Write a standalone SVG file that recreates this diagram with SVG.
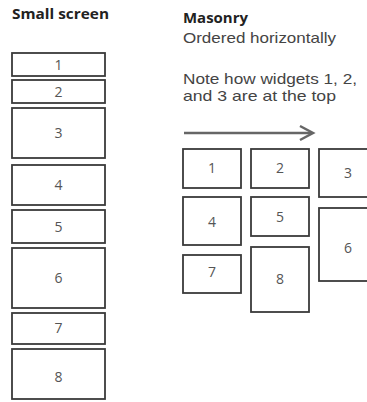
<svg xmlns="http://www.w3.org/2000/svg" width="367" height="402" viewBox="0 0 367 402">
<style>
.box{fill:#fff;stroke:#3a3a3a;stroke-width:1.8}
.num{font-family:"Open Sans","Liberation Sans",sans-serif;font-size:14px;fill:#555;text-anchor:middle}
.title{font-family:"Open Sans","Liberation Sans",sans-serif;font-weight:bold;font-size:14px;fill:#222}
.txt{font-family:"Liberation Sans",Arial,sans-serif;font-size:14.8px;fill:#444}
</style>
<rect width="367" height="402" fill="#fff"/>
<text class="title" x="12" y="19" textLength="97" lengthAdjust="spacingAndGlyphs">Small screen</text>
<g id="s1"><rect class="box" x="12" y="53" width="93" height="23"/><text class="num" x="58.5" y="69.5">1</text></g>
<g id="s2"><rect class="box" x="12" y="80" width="93" height="23"/><text class="num" x="58.5" y="96.5">2</text></g>
<g id="s3"><rect class="box" x="12" y="108" width="93" height="50"/><text class="num" x="58.5" y="138">3</text></g>
<g id="s4"><rect class="box" x="12" y="165" width="93" height="40"/><text class="num" x="58.5" y="190">4</text></g>
<g id="s5"><rect class="box" x="12" y="210" width="93" height="33"/><text class="num" x="58.5" y="231.5">5</text></g>
<g id="s6"><rect class="box" x="12" y="248" width="93" height="60"/><text class="num" x="58.5" y="283">6</text></g>
<g id="s7"><rect class="box" x="12" y="313" width="93" height="31"/><text class="num" x="58.5" y="333">7</text></g>
<g id="s8"><rect class="box" x="12" y="349" width="93" height="50"/><text class="num" x="58.5" y="382">8</text></g>
<text class="title" x="183" y="23" textLength="65" lengthAdjust="spacingAndGlyphs">Masonry</text>
<text class="txt" x="183" y="43" textLength="153" lengthAdjust="spacingAndGlyphs">Ordered horizontally</text>
<text class="txt" x="183" y="84" textLength="174" lengthAdjust="spacingAndGlyphs">Note how widgets 1, 2,</text>
<text class="txt" x="183" y="101" textLength="153" lengthAdjust="spacingAndGlyphs">and 3  are at the top</text>
<g id="connectors">
<line x1="184" y1="133" x2="312" y2="133" stroke="#666" stroke-width="2.5"/>
<polyline points="300,126 313,133 300,140" fill="none" stroke="#666" stroke-width="2.5"/>
</g>
<g id="m1"><rect class="box" x="183" y="149" width="58" height="39"/><text class="num" x="212" y="173">1</text></g>
<g id="m2"><rect class="box" x="251" y="149" width="58" height="39"/><text class="num" x="280" y="173">2</text></g>
<g id="m3"><rect class="box" x="319" y="149" width="60" height="48"/><text class="num" x="348" y="178">3</text></g>
<g id="m4"><rect class="box" x="183" y="197" width="58" height="48"/><text class="num" x="212" y="227">4</text></g>
<g id="m5"><rect class="box" x="251" y="197" width="58" height="39"/><text class="num" x="280" y="222">5</text></g>
<g id="m6"><rect class="box" x="319" y="208" width="60" height="73"/><text class="num" x="348" y="253">6</text></g>
<g id="m7"><rect class="box" x="183" y="255" width="58" height="38"/><text class="num" x="212" y="277">7</text></g>
<g id="m8"><rect class="box" x="251" y="247" width="58" height="65"/><text class="num" x="280" y="284">8</text></g>
</svg>
